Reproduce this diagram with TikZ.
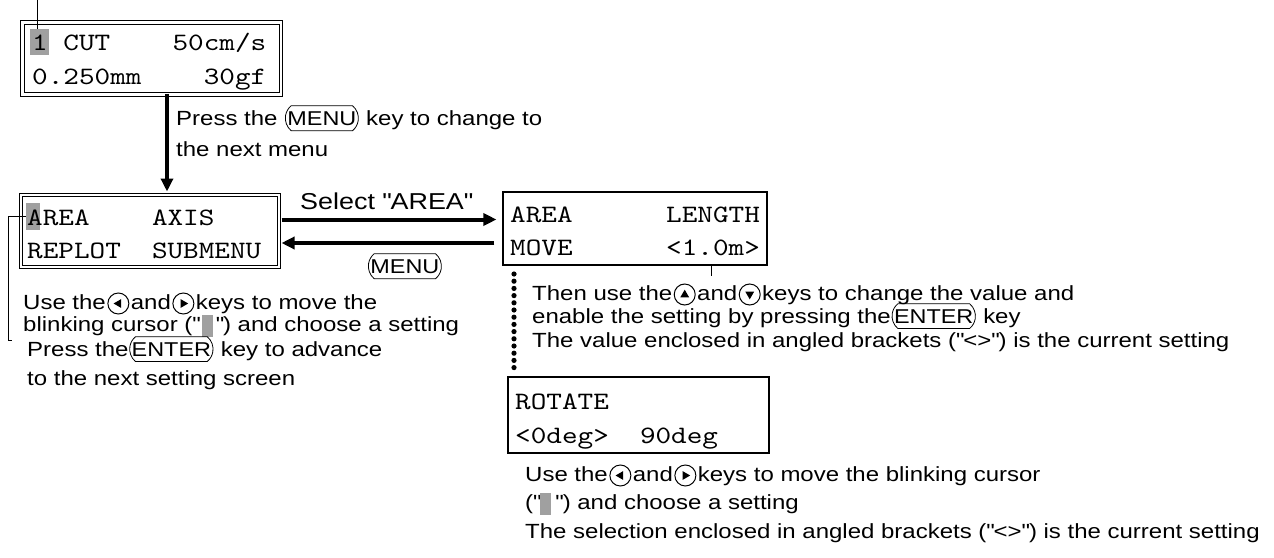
\documentclass[tikz,border=0pt]{standalone}
\usepackage{fontspec}
\setmainfont{Liberation Sans}[FakeStretch=1.17]
\newfontfamily\lcdfont{lmmono10-regular.otf}[FakeStretch=1.19]
\usetikzlibrary{arrows.meta,shapes.misc}
\definecolor{curgray}{HTML}{A0A0A0}
\newcommand\qt{\textquotedbl}
\newcommand\keycap[1]{\tikz[baseline=(k.base)]\node[draw,anchor=center,rounded rectangle,rounded rectangle arc length=100,line width=0.8pt,inner xsep=0.5pt,inner ysep=5.5pt,font=\fontsize{20}{20}\selectfont](k){#1};}
\newcommand\arrkey[1]{\hspace{1.5pt}\tikz[baseline=-5.5pt,x=1pt,y=1pt]{\draw[line width=1pt](0,0) circle[radius=10.5pt]; \fill #1 -- cycle;}\hspace{1.5pt}}
\newcommand\kleft{\arrkey{(-4.8,0) -- (2.8,4.4) -- (2.8,-4.4)}}
\newcommand\kright{\arrkey{(4.8,0) -- (-2.8,4.4) -- (-2.8,-4.4)}}
\newcommand\kup{\arrkey{(0,4.8) -- (-4.4,-2.8) -- (4.4,-2.8)}}
\newcommand\kdown{\arrkey{(0,-4.8) -- (-4.4,2.8) -- (4.4,2.8)}}
\newcommand\blk{\textcolor{curgray}{\rule[-6pt]{11pt}{22pt}}}
\begin{document}
\begin{tikzpicture}[x=1pt,y=-1pt,
  note/.style={anchor=base west,inner sep=0pt,font=\fontsize{20.5}{24}\selectfont},
  lcd/.style={anchor=base west,inner sep=0pt,font=\lcdfont\fontsize{25}{25}\selectfont},
  dbox/.style={draw,line width=1pt,double,double distance=2.3pt,inner sep=0pt},
  sbox/.style={draw,line width=1.1pt,inner sep=0pt},
  cursor/.style={fill=curgray,inner sep=0pt},
  bigarrow/.style={line width=4pt,-{Triangle[length=13pt,width=12pt]}},
  lead/.style={line width=0.8pt}]
\useasboundingbox (0,0) rectangle (1274,557);
% boxes
\node[dbox,minimum width=258.6pt,minimum height=72pt] (b1) at (151.7,58.35) {};
\node[dbox,minimum width=258pt,minimum height=71.7pt] (b2) at (150,230.85) {};
\node[sbox,minimum width=264pt,minimum height=73pt] (b3) at (635,228.5) {};
\node[sbox,minimum width=261pt,minimum height=76pt] (b4) at (638.5,415) {};
% cursors
\node[cursor,minimum width=19pt,minimum height=26pt] (cur1) at (39.5,42) {};
\node[cursor,minimum width=14pt,minimum height=27pt] (cur2) at (33,216.5) {};
% lcd texts
\node[lcd] (a1) at (32,50) {1};
\node[lcd] (a2) at (63.2,50) {CUT};
\node[lcd] (a3) at (172.4,50) {50cm/s};
\node[lcd] (a4) at (32,84) {0.250mm};
\node[lcd] (a5) at (203.6,84) {30gf};
\node[lcd] (c1) at (27,225) {AREA};
\node[lcd] (c2) at (151.8,225) {AXIS};
\node[lcd] (c3) at (27,258) {REPLOT};
\node[lcd] (c4) at (151.8,258) {SUBMENU};
\node[lcd] (d1) at (510,222) {AREA};
\node[lcd] (d2) at (666,222) {LENGTH};
\node[lcd] (d3) at (510,255) {MOVE};
\node[lcd] (d4) at (666,255) {<1.0m>};
\node[lcd] (e1) at (515,409) {ROTATE};
\node[lcd] (e2) at (515,443) {<0deg>};
\node[lcd] (e3) at (639.8,443) {90deg};
% arrows
\coordinate (vx) at (167,0);
\coordinate (r1) at (0,219.5);
\coordinate (r2) at (0,243);
\draw[bigarrow,shorten <=-1pt,shorten >=3pt] (b1.south -| vx) -- (b2.north -| vx);
\draw[bigarrow,shorten <=2pt,shorten >=6pt] (b2.east |- r1) -- (b3.west |- r1);
\draw[bigarrow,shorten <=8pt,shorten >=2pt] (b3.west |- r2) -- (b2.east |- r2);
% leaders
\coordinate (ptop) at (37.7,0);
\draw[lead] (ptop) -- (ptop |- cur1.north);
\coordinate (lc) at (8,340);
\coordinate (lce) at (12,340);
\draw[lead] (cur2.west) -| (lc) -- (lce);
\coordinate (tk) at (711,276);
\draw[lead] (tk |- b3.south) -- (tk);
\foreach \i in {0,...,13} \fill (514,{274+\i*7.2}) circle[radius=2.6pt];
% notes
\node[note] (n1) at (176,125) {Press the \keycap{MENU} key to change to};
\node[note] (n2) at (176,156) {the next menu};
\node[note,font=\fontsize{23}{24}\selectfont] (n3) at (300,209) {Select \qt AREA\qt};
\node[note] (n4) at (367,273) {\keycap{MENU}};
\node[note] (l1) at (23,309) {Use the\kleft and\kright keys to move the};
\node[note] (l2) at (23,331) {blinking cursor (\qt\hspace{2pt}\blk\hspace{3pt}\qt) and choose a setting};
\node[note] (l3) at (27,356) {Press the\keycap{ENTER} key to advance};
\node[note] (l4) at (27,385) {to the next setting screen};
\node[note] (m1) at (532,300) {Then use the\kup and\kdown keys to change the value and};
\node[note] (m2) at (532,323) {enable the setting by pressing the\keycap{ENTER} key};
\node[note] (m3) at (532,347) {The value enclosed in angled brackets (\qt<>\qt) is the current setting};
\node[note] (s1) at (525,481) {Use the\kleft and\kright keys to move the blinking cursor};
\node[note] (s2) at (525,509) {(\qt\blk\hspace{4pt}\qt) and choose a setting};
\node[note] (s3) at (525,538) {The selection enclosed in angled brackets (\qt<>\qt) is the current setting};
\end{tikzpicture}
\end{document}
